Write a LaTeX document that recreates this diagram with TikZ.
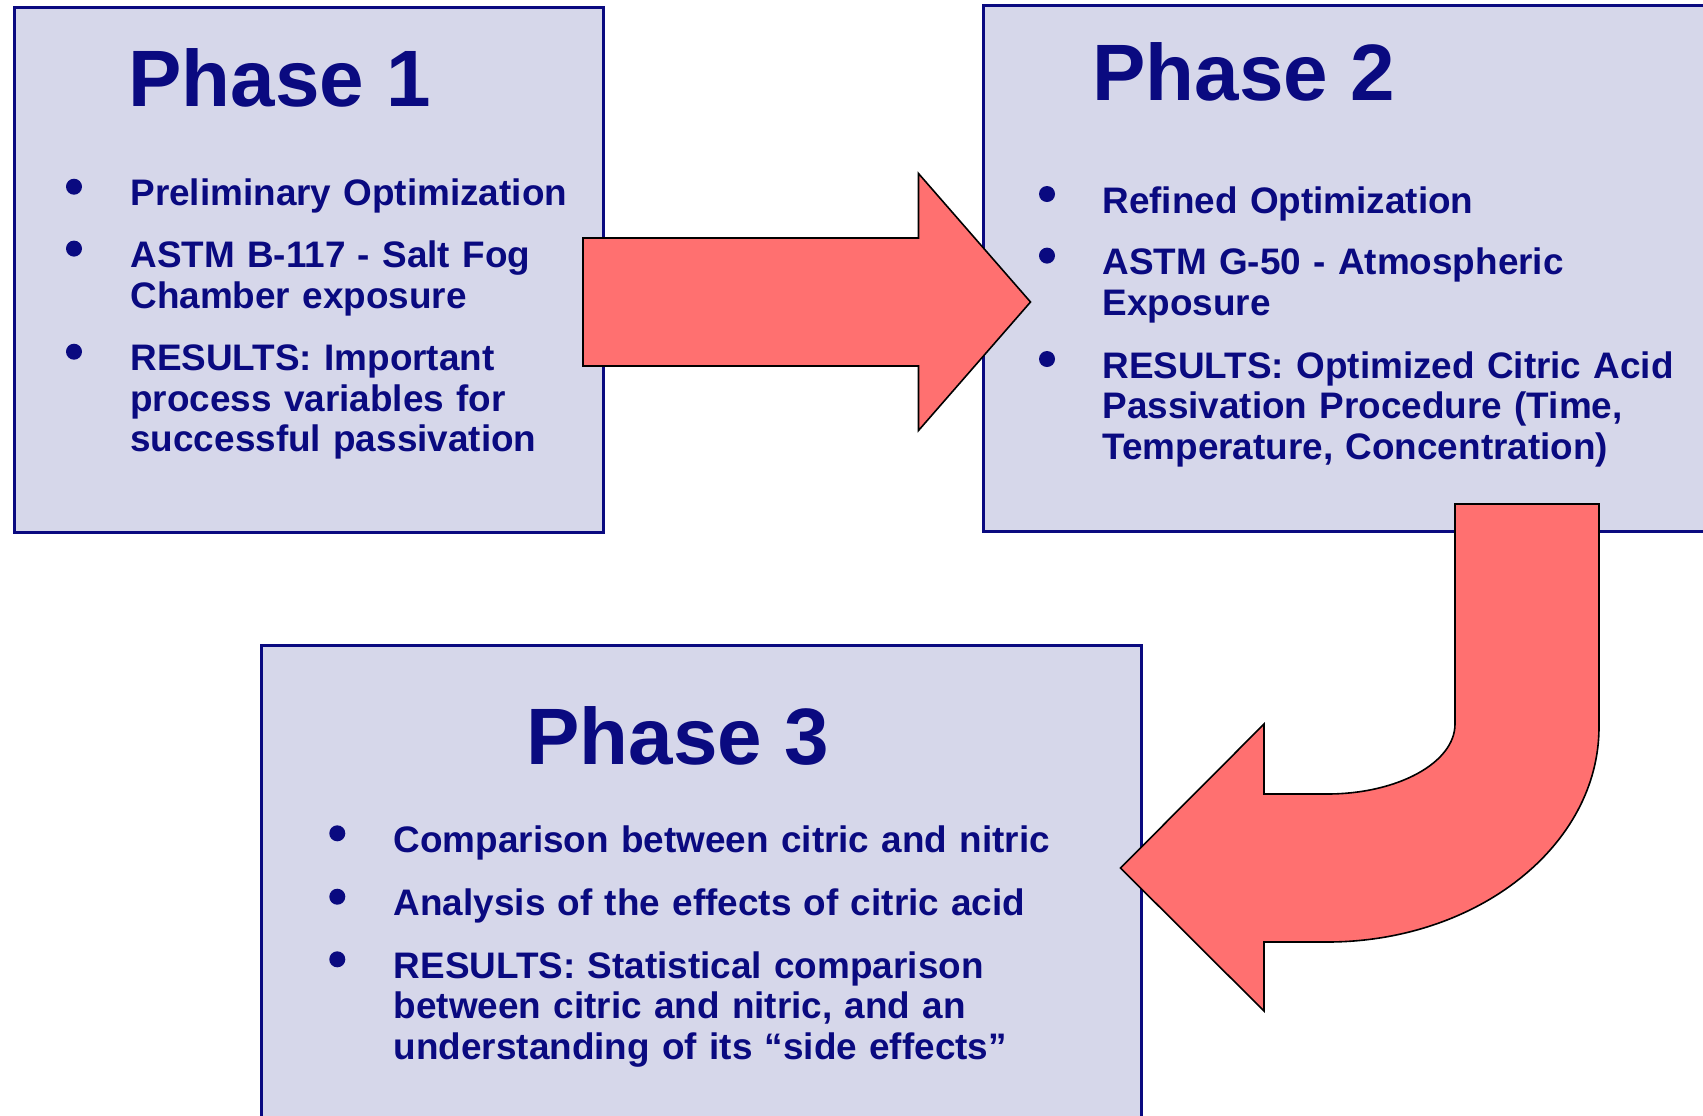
\documentclass[tikz,border=0pt]{standalone}
\usepackage{fontspec}
\setmainfont{Liberation Sans}
\usepackage{xcolor}
\usepackage{tikz}
\usetikzlibrary{positioning}
\definecolor{phasenavy}{HTML}{0A0A80}
\definecolor{phasefill}{HTML}{D6D7EA}
\definecolor{arrowred}{HTML}{FF7070}

\begin{document}
\begin{tikzpicture}[
  x=0.5pt, y=-0.5pt,
  phasebox/.style={draw=phasenavy, fill=phasefill, line width=1.5pt, inner sep=0pt},
  phasetitle/.style={anchor=base west, inner sep=0pt, text=phasenavy, font=\fontsize{40}{48}\selectfont\bfseries},
  bullettext/.style={anchor=base west, inner sep=0pt, text width=420pt, align=left, text=phasenavy, font=\fontsize{18.45}{20.25}\selectfont\bfseries},
  bulletdot/.style={circle, fill=phasenavy, inner sep=0pt, minimum size=8pt},
  bigarrow/.style={draw=black, fill=arrowred, line width=0.8pt, line join=miter},
]
  \useasboundingbox (0,0) rectangle (1703,1115);
  \clip (0,0) rectangle (1703,1115);

  \node[phasebox, minimum width=294.9pt, minimum height=262.75pt] (ph1) at (308.9,269.75) {};
  \node[phasebox, minimum width=388.1pt, minimum height=263pt]    (ph2) at (1371.9,268.7) {};
  \node[phasebox, minimum width=439.8pt, minimum height=257.15pt] (ph3) at (701.5,902.85) {};

  \node[phasetitle] (t1) at (128,106)   {Phase 1};
  \node[phasetitle] (t2) at (1092,100)  {Phase 2};
  \node[phasetitle] (t3) at (526,764.3) {Phase 3};

  \node[bullettext] (p1a) at (130,205.7) {Preliminary Optimization};
  \node[bullettext] (p1b) at (130,267.6) {ASTM B-117 - Salt Fog\\Chamber exposure};
  \node[bullettext] (p1c) at (130,370.7) {RESULTS: Important\\process variables for\\successful passivation};
  \node[bulletdot] (d1a) at (74,186.7) {};
  \node[bulletdot] (d1b) at (74,248.6) {};
  \node[bulletdot] (d1c) at (74,351.7) {};

  \node[bullettext] (p2a) at (1102,213)   {Refined Optimization};
  \node[bullettext] (p2b) at (1102,274.6) {ASTM G-50 - Atmospheric\\Exposure};
  \node[bullettext] (p2c) at (1102,378)   {RESULTS: Optimized Citric Acid\\Passivation Procedure (Time,\\Temperature, Concentration)};
  \node[bulletdot] (d2a) at (1047,194) {};
  \node[bulletdot] (d2b) at (1047,255.6) {};
  \node[bulletdot] (d2c) at (1047,359) {};

  \node[bullettext] (p3a) at (393.4,852.3) {Comparison between citric and nitric};
  \node[bullettext] (p3b) at (393.4,915.7) {Analysis of the effects of citric acid};
  \node[bullettext] (p3c) at (393.4,978.3) {RESULTS: Statistical comparison\\between citric and nitric, and an\\understanding of its “side effects”};
  \node[bulletdot] (d3a) at (337.3,833.3) {};
  \node[bulletdot] (d3b) at (337.3,896.7) {};
  \node[bulletdot] (d3c) at (337.3,959.3) {};

  \draw[bigarrow] (583,238) -- (918.5,238) -- (918.5,173.5) -- (1030.5,302)
    -- (918.5,430.5) -- (918.5,366) -- (583,366) -- cycle;
  \draw[bigarrow] (1455,504) -- (1455,724) .. controls (1455,762.7) and (1397.7,794) .. (1327,794)
    -- (1264,794) -- (1264,724) -- (1120.5,868) -- (1264,1011) -- (1264,942) -- (1327,942)
    .. controls (1477.2,942) and (1599,845.7) .. (1599,727) -- (1599,504) -- cycle;
\end{tikzpicture}
\end{document}
